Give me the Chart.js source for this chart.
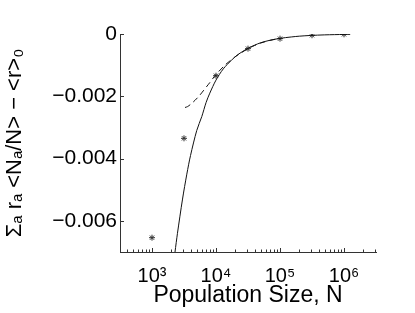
<!DOCTYPE html>
<html><head><meta charset="utf-8">
<script src="https://cdn.jsdelivr.net/npm/chart.js@4.4.1/dist/chart.umd.min.js"></script>
<style>html,body{margin:0;padding:0;background:#fff;} canvas{display:block;}</style>
</head><body>
<canvas id="c" width="415" height="313"></canvas>
<script>
// Simulation markers (asterisks)
const markerN = [1000, 3162, 10000, 31623, 100000, 316228, 1000000];
const markerValues = [-0.00654, -0.00335, -0.00134, -0.00047, -0.00015, -0.00004, -0.00001];
// Solid theory curve
const solidN = [2100, 2290, 2500, 3000, 3500, 4000, 5000, 6000, 7000, 8000, 10000, 13000, 17500, 22000, 31600, 40000, 50000, 70000, 100000, 150000, 200000, 300000, 500000, 1000000, 1250000];
const solidValues = [-0.0077, -0.0070, -0.0064, -0.0053, -0.0045, -0.0039, -0.0031, -0.00265, -0.0022, -0.0019, -0.00148, -0.00112, -0.00084, -0.00066, -0.00046, -0.00036, -0.00028, -0.0002, -0.00014, -0.000095, -0.00007, -0.000047, -0.000028, -0.000014, -0.000011];
// Dashed approximation curve
const dashedN = [3280, 3600, 4000, 4700, 5500, 6300, 8000, 10000, 13800, 16600, 20000, 25000, 31600, 40000, 50000, 70000, 100000];
const dashedValues = [-0.00236, -0.00233, -0.00226, -0.00213, -0.00198, -0.00183, -0.00156, -0.00130, -0.00100, -0.00086, -0.00073, -0.0006, -0.00047, -0.00037, -0.00029, -0.000205, -0.00014];
// Axis ticks
const xTickValues = [1e3, 1e4, 1e5, 1e6];
const xTickLabels = ['10³', '10⁴', '10⁵', '10⁶'];
const yTickValues = [0, -0.002, -0.004, -0.006];
const yTickLabels = ['0', '−0.002', '−0.004', '−0.006'];

const FAMILY = '"Liberation Sans", Arial, Helvetica, sans-serif';
const zip = (xs, ys) => xs.map((x, i) => ({x, y: ys[i]}));

const inwardTicks = {
  id: 'inwardTicks',
  afterDraw(chart) {
    const {ctx, chartArea: a} = chart;
    const x = chart.scales.x, y = chart.scales.y;
    ctx.save();
    ctx.strokeStyle = '#333';
    ctx.lineWidth = 1;
    ctx.beginPath();
    for (let e = 2; e <= 6; e++) {
      for (let m = 1; m < 10; m++) {
        const v = m * Math.pow(10, e);
        if (v < x.min || v > x.max) continue;
        const px = Math.round(x.getPixelForValue(v)) + 0.5;
        const len = m === 1 ? 4 : 2.5;
        ctx.moveTo(px, a.bottom);
        ctx.lineTo(px, a.bottom - len);
      }
    }
    yTickValues.forEach(v => {
      const py = Math.round(y.getPixelForValue(v)) + 0.5;
      ctx.moveTo(a.left, py);
      ctx.lineTo(a.left + 4, py);
    });
    ctx.stroke();
    ctx.restore();
  }
};

new Chart(document.getElementById('c'), {
  type: 'line',
  data: {
    datasets: [
      {data: zip(solidN, solidValues), borderColor: '#111', borderWidth: 1, pointRadius: 0, fill: false, tension: 0.3},
      {data: zip(dashedN, dashedValues), borderColor: '#111', borderWidth: 1, borderDash: [6, 4], pointRadius: 0, fill: false, tension: 0.3},
      {data: zip(markerN, markerValues), showLine: false, pointStyle: 'star', pointRadius: 3, borderColor: '#333', borderWidth: 1, backgroundColor: '#333'}
    ]
  },
  options: {
    responsive: false, animation: false, devicePixelRatio: 1,
    layout: {padding: {top: 34, right: 39, left: 0, bottom: 0}},
    plugins: {legend: {display: false}, tooltip: {enabled: false}},
    scales: {
      x: {
        type: 'logarithmic', min: 316.2278, max: 3162278,
        afterBuildTicks: s => { s.ticks = xTickValues.map(v => ({value: v, major: true})); },
        afterFit: s => { s.height = 61; },
        grid: {display: false, drawTicks: false},
        border: {display: true, color: '#333', width: 1},
        ticks: {autoSkip: false, maxRotation: 0, minRotation: 0, padding: 12, color: '#000', font: {family: FAMILY, size: 20},
          callback: (v, i) => xTickLabels[i]},
        title: {display: true, text: 'Population Size, N', color: '#000', font: {family: FAMILY, size: 23}, padding: {top: 0, bottom: 4}}
      },
      y: {
        type: 'linear', min: -0.007, max: 0,
        afterBuildTicks: s => { s.ticks = yTickValues.map(v => ({value: v})); },
        afterFit: s => { s.width = 120; },
        grid: {display: false, drawTicks: false},
        border: {display: true, color: '#333', width: 1},
        ticks: {padding: 3, color: '#000', font: {family: FAMILY, size: 21},
          callback: (v, i) => yTickLabels[i]},
        title: {display: true, text: 'Σₐ rₐ <Nₐ/N> − <r>₀', color: '#000', font: {family: FAMILY, size: 22}, padding: {top: 2, bottom: 0}}
      }
    }
  },
  plugins: [inwardTicks]
});
</script>
</body></html>
